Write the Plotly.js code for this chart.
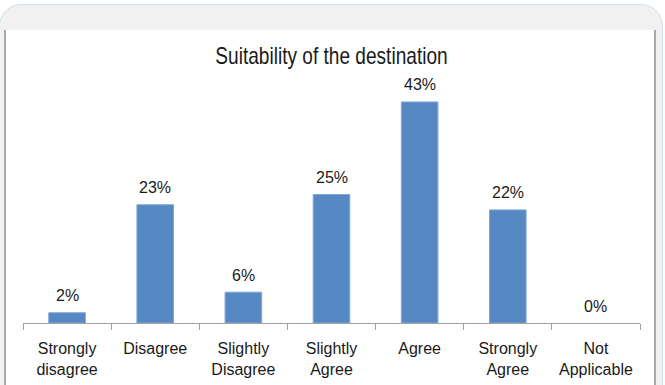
<!DOCTYPE html>
<html>
<head>
<meta charset="utf-8">
<script src="https://cdn.plot.ly/plotly-3.0.1.min.js"></script>
<style>
  html, body { margin: 0; padding: 0; background: #ffffff; }
  #wrap { position: relative; width: 665px; height: 385px; overflow: hidden; }
  #card {
    position: absolute; left: -1px; top: 4px; width: 664px; height: 420px;
    background: #f1f1f1; border: 1px solid #cde2ee; border-radius: 22px;
    box-sizing: border-box;
  }
  #panel {
    position: absolute; left: 4px; top: 30px; width: 652px; height: 380px;
    background: #ffffff; border-left: 2px solid #a9a9a9; border-right: 2px solid #a9a9a9;
    box-sizing: border-box;
  }
  #chart { position: absolute; left: 0; top: 0; width: 665px; height: 385px; }
</style>
</head>
<body>
<div id="wrap">
  <div id="card"></div>
  <div id="panel"></div>
  <div id="chart"></div>
</div>
<script>
// Survey responses: suitability of the destination
const categories = ["Strongly disagree", "Disagree", "Slightly Disagree", "Slightly Agree", "Agree", "Strongly Agree", "Not Applicable"];
const tickLabels = ["Strongly<br>disagree", "Disagree", "Slightly<br>Disagree", "Slightly<br>Agree", "Agree", "Strongly<br>Agree", "Not<br>Applicable"];
const percents = [2, 23, 6, 25, 43, 22, 0];
const chartTitle = "Suitability of the destination";

const textFont = { family: "Liberation Sans, Arial, sans-serif", size: 16, color: "#1a1a1a" };

const trace = {
  type: "bar",
  x: categories,
  y: percents,
  width: 0.415,
  marker: {
    color: "#5688c4",
    // thin light edge, skipped on empty bars
    line: { color: "#7ea6d6", width: percents.map(v => (v > 0 ? 1 : 0)) }
  },
  hoverinfo: "skip"
};

// Value labels above each bar
const labels = categories.map((c, i) => ({
  x: c, y: percents[i], xref: "x", yref: "y",
  text: percents[i] + "%", showarrow: false,
  yanchor: "middle", yshift: 17,
  font: textFont
}));

const layout = {
  width: 665, height: 385,
  margin: { l: 23, r: 25, t: 66, b: 62, pad: 0 },
  paper_bgcolor: "rgba(0,0,0,0)",
  plot_bgcolor: "rgba(0,0,0,0)",
  showlegend: false,
  title: {
    text: chartTitle,
    x: 0.5, xanchor: "center", xref: "paper",
    y: 1 - 56 / 385, yanchor: "middle", yref: "container",
    font: { family: "Liberation Sans, Arial, sans-serif", size: 23, color: "#1a1a1a" }
  },
  xaxis: {
    type: "category",
    tickmode: "array", tickvals: categories, ticktext: tickLabels,
    tickson: "boundaries",
    ticks: "outside", ticklen: 6, tickcolor: "#a0a0a0", tickwidth: 1,
    ticklabelstandoff: 11,
    showline: true, linecolor: "#a0a0a0", linewidth: 1,
    showgrid: false, zeroline: false,
    tickfont: textFont,
    range: [-0.5, 6.5], fixedrange: true
  },
  yaxis: {
    range: [0, 50], visible: false, showgrid: false, zeroline: false, fixedrange: true
  },
  annotations: labels
};

Plotly.newPlot("chart", [trace], layout, { displayModeBar: false, staticPlot: true }).then(gd => {
  // Title is set in a narrow face: condense it horizontally about its centre
  const t = gd.querySelector(".gtitle");
  if (t) {
    const b = t.getBBox();
    const cx = b.x + b.width / 2;
    t.setAttribute("transform", `translate(${cx},0) scale(0.83,1) translate(${-cx},0)`);
  }
});
</script>
</body>
</html>
